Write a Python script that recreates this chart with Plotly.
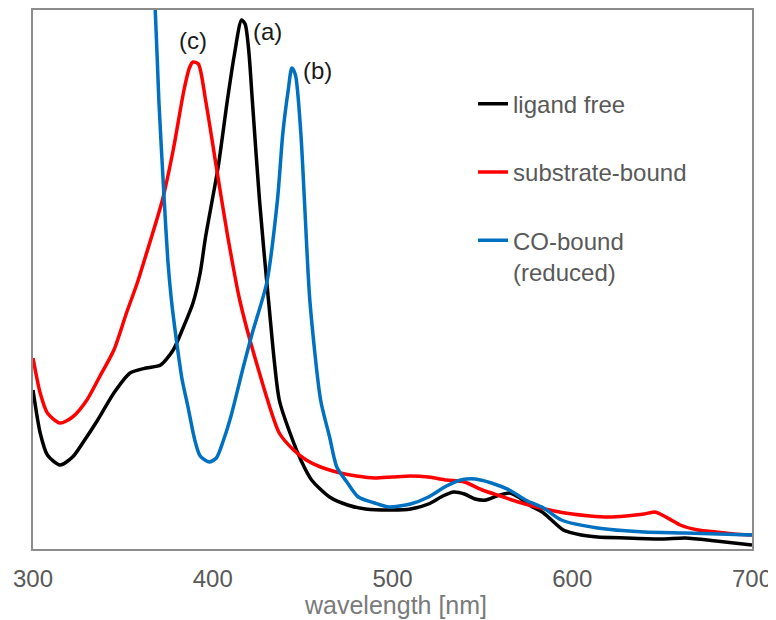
import plotly.graph_objects as go

# wavelength [nm] and absorbance (arbitrary units)
ligand_free_nm = [300, 304, 308, 315, 322, 328, 336, 345, 354, 363, 371, 378, 383, 389,
                  393, 396, 403, 408, 412, 416, 418, 420, 422, 426, 431, 437, 443, 449,
                  455, 465, 475, 485, 500, 510, 520, 528, 534, 540, 546, 552, 558, 565,
                  570, 576, 584, 595, 605, 614, 630, 650, 663, 680, 700]
ligand_free_abs = [0.159, 0.116, 0.094, 0.084, 0.092, 0.107, 0.129, 0.156, 0.176, 0.181,
                   0.184, 0.199, 0.219, 0.246, 0.276, 0.312, 0.382, 0.447, 0.494, 0.529,
                   0.525, 0.499, 0.449, 0.349, 0.249, 0.149, 0.116, 0.089, 0.069, 0.052,
                   0.044, 0.040, 0.039, 0.040, 0.045, 0.053, 0.057, 0.055, 0.050, 0.049,
                   0.053, 0.056, 0.052, 0.044, 0.036, 0.019, 0.014, 0.012, 0.011, 0.010,
                   0.011, 0.008, 0.004]

substrate_nm = [300, 304, 308, 315, 322, 330, 337, 345, 352, 358, 362, 372, 378, 384,
                387, 389, 392, 396, 402, 408, 415, 425, 437, 445, 452, 460, 471, 480,
                490, 500, 510, 520, 530, 540, 550, 560, 570, 580, 590, 600, 610, 620,
                630, 640, 646, 650, 655, 660, 670, 680, 690, 700]
substrate_abs = [0.191, 0.156, 0.136, 0.126, 0.132, 0.149, 0.172, 0.199, 0.236, 0.266,
                 0.289, 0.349, 0.399, 0.459, 0.481, 0.487, 0.485, 0.449, 0.382, 0.316,
                 0.249, 0.182, 0.116, 0.099, 0.089, 0.082, 0.076, 0.073, 0.071, 0.072,
                 0.073, 0.072, 0.069, 0.067, 0.059, 0.053, 0.047, 0.042, 0.038, 0.035,
                 0.033, 0.032, 0.033, 0.035, 0.037, 0.034, 0.029, 0.024, 0.019, 0.017,
                 0.015, 0.014]

co_nm = [355, 360, 364, 368, 370, 373, 375, 377, 380, 383, 386, 390, 393, 398, 402,
         406, 410, 417, 422, 430, 436, 439, 442, 444, 446, 449, 451, 454, 460, 465,
         469, 475, 481, 490, 498, 510, 520, 530, 538, 546, 555, 565, 574, 584, 594,
         614, 640, 663, 700]
co_abs = [0.949, 0.799, 0.649, 0.539, 0.449, 0.349, 0.289, 0.249, 0.206, 0.169, 0.144,
          0.109, 0.093, 0.087, 0.091, 0.109, 0.132, 0.182, 0.216, 0.266, 0.349, 0.416,
          0.459, 0.481, 0.474, 0.416, 0.349, 0.249, 0.149, 0.112, 0.082, 0.066, 0.052,
          0.046, 0.042, 0.045, 0.052, 0.063, 0.069, 0.070, 0.066, 0.059, 0.049, 0.041,
          0.029, 0.021, 0.017, 0.016, 0.014]

x_ticks = [300, 400, 500, 600, 700]

# peak labels
peak_labels = ['(a)', '(b)', '(c)']
peak_label_nm = [430.2, 458.0, 389.0]
peak_label_abs = [0.518, 0.479, 0.509]

TEXT_GRAY = '#595959'
FRAME_GRAY = '#8c8c8c'

# the page body has an 8px margin, so the figure is a bit smaller than the window
FIG_W, FIG_H = 768, 612

fig = go.Figure()

fig.add_trace(go.Scatter(
    x=ligand_free_nm, y=ligand_free_abs, name='ligand free', mode='lines',
    line=dict(color='#000000', width=3.5, shape='spline', smoothing=0.7), legendgroup='a'
))
fig.add_trace(go.Scatter(
    x=substrate_nm, y=substrate_abs, name='substrate-bound', mode='lines',
    line=dict(color='#ff0000', width=3.5, shape='spline', smoothing=0.7), legendgroup='c'
))
fig.add_trace(go.Scatter(
    x=co_nm, y=co_abs, name='CO-bound<br>(reduced)', mode='lines',
    line=dict(color='#0070c0', width=3.5, shape='spline', smoothing=0.7), legendgroup='b'
))

for label, lx, ly in zip(peak_labels, peak_label_nm, peak_label_abs):
    fig.add_annotation(
        x=lx, y=ly, text=label, showarrow=False,
        font=dict(size=24, color='#1a1a1a')
    )

# x axis title as a paper annotation so it can sit close to the tick labels
fig.add_annotation(
    x=0.5, y=0, xref='paper', yref='paper', xanchor='center', yanchor='top',
    xshift=3, yshift=-40, showarrow=False,
    text='wavelength [nm]', font=dict(size=25, color='#7a7a7a')
)

fig.update_layout(
    width=FIG_W, height=FIG_H,
    margin=dict(l=25, r=24, t=2, b=71),
    paper_bgcolor='white',
    plot_bgcolor='white',
    font=dict(family='Liberation Sans, Arial, sans-serif', color=TEXT_GRAY),
    showlegend=True,
    legend=dict(
        x=0.612, y=0.867, xanchor='left', yanchor='top',
        font=dict(size=24, color=TEXT_GRAY),
        bgcolor='rgba(0,0,0,0)',
        tracegroupgap=34,
        valign='top',
    ),
    xaxis=dict(
        range=[300, 700],
        tickvals=x_ticks,
        showgrid=False, zeroline=False, automargin=False,
        showline=True, mirror=True, linecolor=FRAME_GRAY, linewidth=2,
        ticks='', ticklabelstandoff=7, tickfont=dict(size=24, color=TEXT_GRAY),
    ),
    yaxis=dict(
        range=[0, 0.539],
        showticklabels=False, showgrid=False, zeroline=False, automargin=False,
        showline=True, mirror=True, linecolor=FRAME_GRAY, linewidth=2,
        ticks='',
    ),
)

fig.write_html('out.html')
